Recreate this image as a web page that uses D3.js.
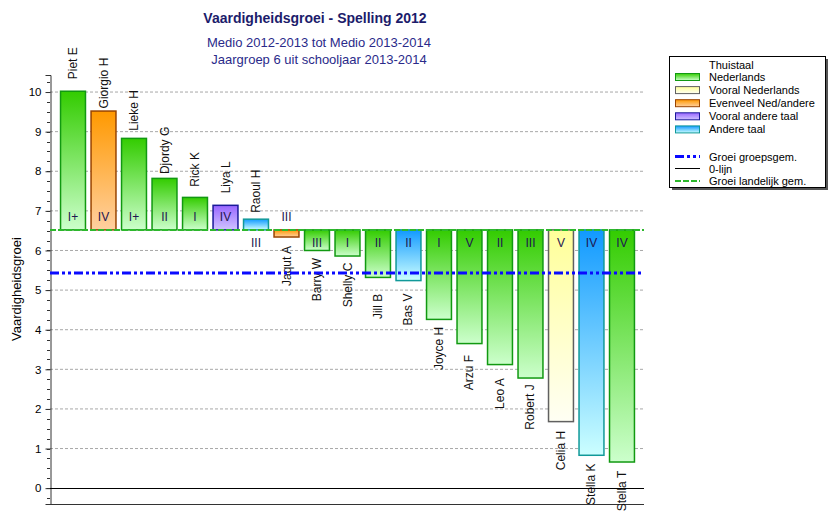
<!DOCTYPE html>
<html><head><meta charset="utf-8">
<script src="https://cdn.jsdelivr.net/npm/d3@7"></script>
<style>body{margin:0;background:#fff;} svg{display:block;font-family:"Liberation Sans",Arial,sans-serif;}</style>
</head><body>
<svg id="c" width="836" height="512"></svg>
<script>
const names = ["Piet E","Giorgio H","Lieke H","Djordy G","Rick K","Liya L","Raoul H","Jaqut A","Barry W","Shelly C","Jill B","Bas V","Joyce H","Arzu F","Leo A","Robert J","Celia H","Stella K","Stella T"];
const values = [10.02,9.52,8.83,7.82,7.34,7.14,6.79,6.34,6.0,5.86,5.32,5.24,4.26,3.65,3.12,2.78,1.68,0.83,0.66];
const levels = ["I+","IV","I+","II","I","IV","III","III","III","I","II","II","I","V","II","III","V","IV","IV"];
const homeLang = ["ned","even","ned","ned","ned","andervooral","ander","even","ned","ned","ned","ander","ned","ned","ned","ned","nedvooral","ander","ned"];
const langKeys = ["ned","nedvooral","even","andervooral","ander"];
const langLabels = ["Nederlands","Vooral Nederlands","Evenveel Ned/andere","Vooral andere taal","Andere taal"];
const nationalAvg = 6.52;
const groupAvg = 5.43;
const yTicks = [0,1,2,3,4,5,6,7,8,9,10];

const colors = {
  ned:{top:"#33cc00",bot:"#ccffcc",stroke:"#119911"},
  nedvooral:{top:"#ffff99",bot:"#fffff4",stroke:"#606060"},
  even:{top:"#ff9900",bot:"#ffd0a0",stroke:"#994400"},
  andervooral:{top:"#9966ff",bot:"#d0c4ff",stroke:"#1a1a99"},
  ander:{top:"#1199ff",bot:"#ccffff",stroke:"#119999"}
};

const svg = d3.select("#c");
const defs = svg.append("defs");
langKeys.forEach(k=>{
  const g = defs.append("linearGradient").attr("id","g_"+k).attr("x1",0).attr("y1",0).attr("x2",0).attr("y2",1);
  g.append("stop").attr("offset","0%").attr("stop-color",colors[k].top);
  g.append("stop").attr("offset","100%").attr("stop-color",colors[k].bot);
});

const x = d3.scaleBand().domain(names).range([57,638]).paddingInner(0.15).paddingOuter(0.1);
const y = d3.scaleLinear().domain([-0.4,10.43]).range([504,75]);
const xL = 50, xR = 644;

// title
svg.append("text").attr("x",315).attr("y",23).attr("text-anchor","middle").attr("font-size",14).attr("font-weight","bold").attr("fill","#1c1c6b").text("Vaardigheidsgroei - Spelling 2012");
svg.append("text").attr("x",319).attr("y",47).attr("text-anchor","middle").attr("font-size",13).attr("fill","#2a2a8a").text("Medio 2012-2013 tot Medio 2013-2014");
svg.append("text").attr("x",319).attr("y",64).attr("text-anchor","middle").attr("font-size",13).attr("fill","#2a2a8a").text("Jaargroep 6 uit schooljaar 2013-2014");

// grid
svg.append("g").selectAll("line").data(yTicks.filter(d=>d>0)).join("line")
  .attr("x1",xL).attr("x2",xR).attr("y1",d=>y(d)).attr("y2",d=>y(d))
  .attr("stroke","#a8a8a8").attr("stroke-dasharray","3,2").attr("stroke-width",1);

// y axis
const minor = d3.range(-0.25,10.43,0.25);
svg.append("g").selectAll("line").data(minor).join("line")
  .attr("x1",xL-3).attr("x2",xL).attr("y1",d=>Math.round(y(d))+0.5).attr("y2",d=>Math.round(y(d))+0.5)
  .attr("stroke","#333");
const yAxis = svg.append("g").attr("transform",`translate(${xL+0.5},0)`)
  .call(d3.axisLeft(y).tickValues(yTicks).tickSize(5).tickFormat(d3.format("d")));
yAxis.select(".domain").attr("stroke","#333");
yAxis.selectAll(".tick line").attr("stroke","#333");
yAxis.selectAll("text").attr("font-size",11.5).attr("fill","#000").attr("font-family","Liberation Sans, Arial, sans-serif").attr("x",-9);
svg.append("text").attr("transform","translate(21,289) rotate(-90)").attr("text-anchor","middle").attr("font-size",13).attr("fill","#000").text("Vaardigheidsgroei");

// bottom axis line
svg.append("line").attr("x1",xL).attr("x2",xR).attr("y1",504.5).attr("y2",504.5).attr("stroke","#333");

// bars
const data = names.map((n,i)=>({name:n,value:values[i],level:levels[i],lang:homeLang[i]}));
const bars = svg.append("g");
bars.selectAll("rect").data(data).join("rect")
  .attr("x",d=>x(d.name)+0.5).attr("width",x.bandwidth()-1)
  .attr("y",d=>y(Math.max(d.value,nationalAvg)))
  .attr("height",d=>Math.abs(y(d.value)-y(nationalAvg)))
  .attr("fill",d=>`url(#g_${d.lang})`).attr("stroke",d=>colors[d.lang].stroke).attr("stroke-width",1.5);

// level labels
const base = y(nationalAvg);
svg.append("g").selectAll("text").data(data).join("text")
  .attr("x",d=>x(d.name)+x.bandwidth()/2)
  .attr("y",d=>{
    const h = Math.abs(y(d.value)-base);
    let up = d.value>=nationalAvg;
    if(h<16) up = !up;
    return up ? base-13 : base+13;
  })
  .attr("text-anchor","middle").attr("dominant-baseline","central").attr("font-size",12).attr("fill","#1e1650")
  .text(d=>d.level);

// name labels
svg.append("g").selectAll("text").data(data).join("text")
  .attr("transform",d=>{
    const cx = x(d.name)+x.bandwidth()/2;
    const cy = d.value>=nationalAvg ? y(d.value)-28 : y(d.value)+29;
    return `translate(${cx},${cy}) rotate(-90)`;
  })
  .attr("text-anchor","middle").attr("dominant-baseline","central").attr("font-size",12).attr("fill","#111")
  .text(d=>d.name);

// zero line
svg.append("line").attr("x1",xL).attr("x2",xR).attr("y1",Math.round(y(0))+0.5).attr("y2",Math.round(y(0))+0.5).attr("stroke","#000");
// national avg
svg.append("line").attr("x1",xL).attr("x2",xR).attr("y1",base).attr("y2",base).attr("stroke","#2db82d").attr("stroke-width",2).attr("stroke-dasharray","6,2");
// group avg
svg.append("line").attr("x1",xL).attr("x2",xR).attr("y1",y(groupAvg)).attr("y2",y(groupAvg)).attr("stroke","#0a0aff").attr("stroke-width",3).attr("stroke-dasharray","9,3,3,3,3,3");

// legend
const lg = svg.append("g");
lg.append("rect").attr("x",672).attr("y",59).attr("width",156).attr("height",131).attr("fill","#555");
lg.append("rect").attr("x",669.5).attr("y",56.5).attr("width",156).attr("height",131).attr("fill","#fff").attr("stroke","#000");
lg.append("text").attr("x",709).attr("y",64.5).attr("dominant-baseline","central").attr("font-size",11).attr("fill","#000").text("Thuistaal");
langKeys.forEach((k,i)=>{
  const cy = 77 + i*13.1;
  lg.append("rect").attr("x",675.5).attr("y",cy-3.5).attr("width",24).attr("height",7).attr("fill",`url(#g_${k})`).attr("stroke",colors[k].stroke);
  lg.append("text").attr("x",709).attr("y",cy).attr("dominant-baseline","central").attr("font-size",11).attr("fill","#000").text(langLabels[i]);
});
const lineItems = [
  {label:"Groei groepsgem.",stroke:"#0a0aff",w:3,dash:"9,3,3,3,3,3",cy:156.5},
  {label:"0-lijn",stroke:"#000",w:1,dash:null,cy:168.5},
  {label:"Groei landelijk gem.",stroke:"#2db82d",w:2,dash:"6,2",cy:181}
];
lineItems.forEach(it=>{
  lg.append("line").attr("x1",675).attr("x2",700).attr("y1",it.cy).attr("y2",it.cy).attr("stroke",it.stroke).attr("stroke-width",it.w).attr("stroke-dasharray",it.dash);
  lg.append("text").attr("x",709).attr("y",it.cy).attr("dominant-baseline","central").attr("font-size",11).attr("fill","#000").text(it.label);
});
</script>
</body></html>
